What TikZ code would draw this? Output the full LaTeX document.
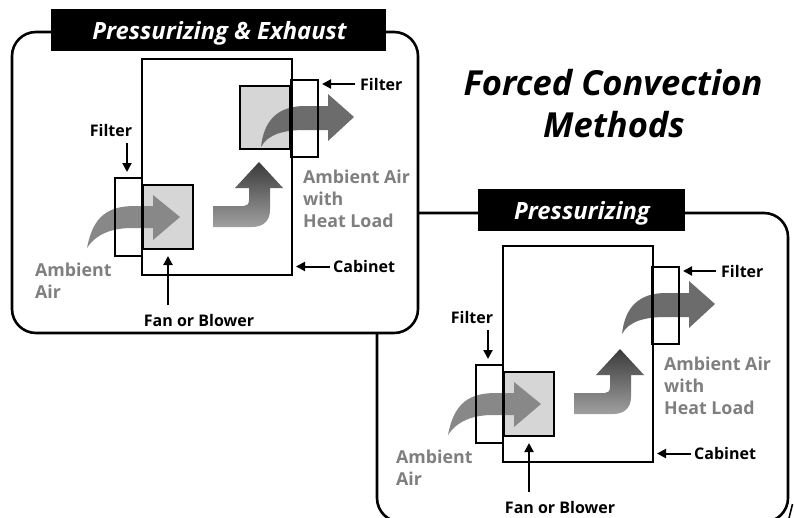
\documentclass[tikz,border=0pt]{standalone}
\usepackage{fontspec}
\setmainfont{Open Sans}
\usetikzlibrary{arrows.meta}
\definecolor{airgray}{HTML}{888888}
\definecolor{exgray}{HTML}{6C6C6C}
\definecolor{fangray}{HTML}{D6D6D6}
\definecolor{labgray}{HTML}{7F7F7F}
\definecolor{risetop}{HTML}{3A3A3A}
\definecolor{risebot}{HTML}{A0A0A0}
\tikzset{
  panel/.style={draw=black, line width=2.6pt, rounded corners=24pt, fill=white},
  titlebar/.style={fill=black, inner sep=0pt},
  titletext/.style={text=white, font=\bfseries\itshape\fontsize{23.8}{26}\selectfont, inner sep=0pt},
  maintitle/.style={font=\bfseries\itshape\fontsize{34.5}{40}\selectfont, inner sep=0pt},
  boxfill/.style={fill=fangray, draw=none, inner sep=0pt},
  boxline/.style={draw=black, line width=2.4pt},
  cabline/.style={draw=black, line width=2pt},
  lab/.style={font=\bfseries\fontsize{16}{18}\selectfont, inner sep=0pt},
  graylab/.style={font=\bfseries\fontsize{17.8}{22}\selectfont, text=labgray, align=left, inner sep=0pt},
  pointer/.style={line width=2pt, -{Triangle[length=9pt,width=9pt]}},
}
\newcommand\panelbody[1]{%
  % fan boxes (fill)
  \node[boxfill, minimum width=50pt, minimum height=64pt] (fan) at (168,217) {};
  \ifnum#1=1
    \node[boxfill, minimum width=50pt, minimum height=63pt] (exfan) at (265,117.5) {};
  \fi
  % intake swoosh
  \fill[airgray] (87,248) .. controls (93,216) and (108,206) .. (135,206) -- (153,206) -- (153,195) -- (180,217) -- (153,240) -- (153,228) -- (132,228) .. controls (112,228) and (96,234) .. cycle;
  % rising arrow
  \shade[top color=risetop, bottom color=risebot] (213,206) -- (244,206) .. controls (247,206) and (249,204) .. (249,200) -- (249,188) -- (235,188) -- (259,162) -- (283,188) -- (270,188) -- (270,210) .. controls (270,221) and (263,227) .. (252,227) -- (213,227) -- cycle;
  % exhaust swoosh
  \fill[exgray] (261,147) .. controls (264,119) and (279,106) .. (305,106) -- (328,106) -- (328,94) -- (354,117) -- (328,141) -- (328,130) -- (305,130) .. controls (284,130) and (268,134) .. cycle;
  % outlines
  \node[cabline, minimum width=150pt, minimum height=216pt, inner sep=0pt] (cab) at (217,167) {};
  \node[boxline, minimum width=27pt, minimum height=78pt, inner sep=0pt] (filin) at (128.5,217) {};
  \node[boxline, minimum width=27pt, minimum height=77pt, inner sep=0pt] (filout) at (304.5,118.5) {};
  \draw[boxline] (fan.north west) rectangle (fan.south east);
  \ifnum#1=1
    \draw[boxline] (exfan.north west) rectangle (exfan.south east);
  \fi
  % labels
  \node[lab, anchor=base] (lfilin) at (111,136) {Filter};
  \coordinate (pfa) at (127,143); \coordinate (pfb) at (127,172);
  \draw[pointer] (pfa) -- (pfb);
  \node[lab, anchor=base west] (lfilout) at (360,90) {Filter};
  \coordinate (pga) at (355,84); \coordinate (pgb) at (322,84);
  \draw[pointer] (pga) -- (pgb);
  \node[lab, anchor=base west] (lcab) at (333,272) {Cabinet};
  \coordinate (pca) at (330,266.5); \coordinate (pcb) at (296,266.5);
  \draw[pointer] (pca) -- (pcb);
  \node[lab, anchor=base] (lfan) at (199,326) {Fan or Blower};
  \coordinate (pna) at (168,305); \coordinate (pnb) at (168,256);
  \draw[pointer] (pna) -- (pnb);
  \node[graylab, anchor=north west] (lamb) at (35,263) {Ambient\\Air};
  \node[graylab, anchor=north west] (lheat) at (303,169.5) {Ambient Air\\with\\Heat Load};
}
\begin{document}
\begin{tikzpicture}[x=1pt,y=-1pt]
\useasboundingbox (0,0) rectangle (794,517);
% panel frames
\node[panel, minimum width=411pt, minimum height=309pt, inner sep=0pt] (framer) at (582.5,367.5) {};
\node[panel, minimum width=406pt, minimum height=301pt, inner sep=0pt] (framel) at (215,182.5) {};
% title bars
\node[titlebar, minimum width=335pt, minimum height=42pt] (bar1) at (218.5,30) {};
\node[titletext, anchor=base] (title1) at (219.5,39.5) {Pressurizing \& Exhaust};
\node[titlebar, minimum width=207pt, minimum height=42pt] (bar2) at (581.5,210) {};
\node[titletext, anchor=base] (title2) at (582,219.5) {Pressurizing};
% main title
\node[maintitle, anchor=base] (main1) at (613,95) {Forced Convection};
\node[maintitle, anchor=base] (main2) at (614,137) {Methods};
% left panel
\begin{scope}[name prefix=L-]
  \panelbody{1}
\end{scope}
% right panel
\begin{scope}[shift={(361,187)}, name prefix=R-]
  \panelbody{0}
\end{scope}
% small mark
\coordinate (m1) at (789,518); \coordinate (m2) at (792.5,504);
\draw[line width=1.6pt] (m1) -- (m2);
\end{tikzpicture}
\end{document}
